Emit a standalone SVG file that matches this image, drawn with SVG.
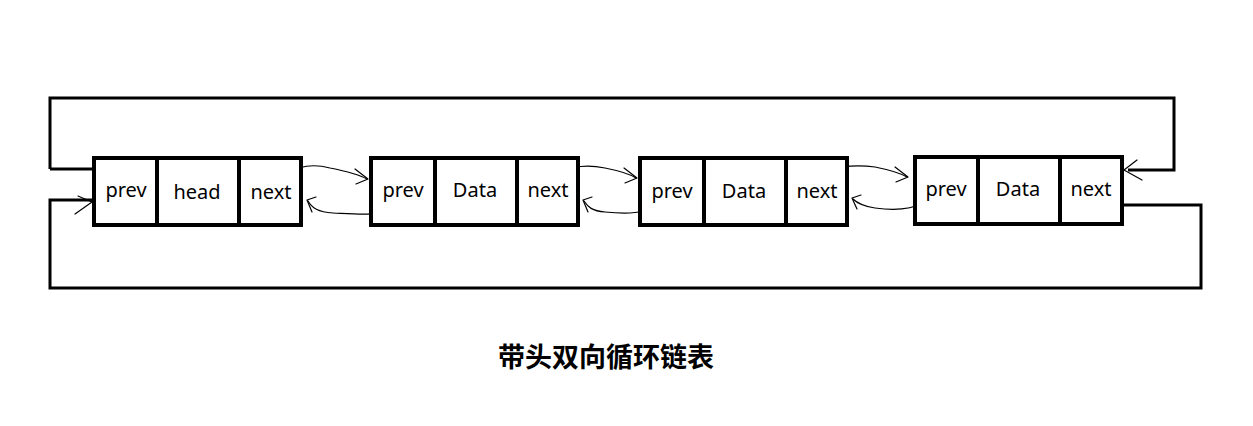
<svg xmlns="http://www.w3.org/2000/svg" width="1253" height="426" viewBox="0 0 1253 426">
<style>
.box{fill:#fff;stroke:#000;stroke-width:4}
.div{stroke:#000;stroke-width:4}
.t{font-family:"Noto Sans","Liberation Sans",sans-serif;font-size:20px;fill:#000;text-anchor:middle}
.loop{fill:none;stroke:#000;stroke-width:3}
.thin{fill:none;stroke:#000;stroke-width:1.2;stroke-linecap:round;stroke-linejoin:round}
.title{font-family:"Noto Sans CJK SC","Noto Sans",sans-serif;font-size:27px;font-weight:bold;fill:#000;text-anchor:middle}
</style>
<rect width="1253" height="426" fill="#fff"/>
<g id="connectors">
<path class="loop" d="M50,169 V98 H1174 V170 H1128"/>
<path class="loop" d="M50,169 H110"/>
<path class="loop" d="M1107,205 H1201 V288 H50 V200 H102"/>
<path class="thin" d="M78,196 L92,202 L75,214"/>
<path class="thin" d="M1137,160 L1124,170 L1142,180"/>
<path class="thin" d="M289,175 C296,165 315,164 330,168 C345,171 358,174 367,179"/>
<path class="thin" d="M355,169 L368,179 L356,184"/>
<path class="thin" d="M383,210 C378,216 355,214 333,213 C318,212 312,208 308,201"/>
<path class="thin" d="M316,197 L307,200 L312,212"/>
<path class="thin" d="M562,174 C570,165 590,165 605,168 C620,171 630,174 636,178"/>
<path class="thin" d="M624,168 L637,178 L625,183"/>
<path class="thin" d="M652,205 C647,214 625,214 605,212 C592,211 588,207 584,201"/>
<path class="thin" d="M592,197 L583,200 L588,212"/>
<path class="thin" d="M830,169 C840,166 860,165 875,167 C890,170 900,173 907,177"/>
<path class="thin" d="M895,167 L908,177 L896,182"/>
<path class="thin" d="M923,203 C910,210 890,210 875,208 C862,206 857,203 853,199"/>
<path class="thin" d="M861,195 L852,198 L857,209"/>
</g>
<g id="node-head">
<rect class="box" x="94" y="158" width="207" height="67"/>
<line class="div" x1="157" y1="158" x2="157" y2="225"/>
<line class="div" x1="239" y1="158" x2="239" y2="225"/>
<text class="t" x="126" y="197">prev</text>
<text class="t" x="197" y="199">head</text>
<text class="t" x="271" y="199">next</text>
</g>
<g id="node-1">
<rect class="box" x="371" y="158" width="207" height="67"/>
<line class="div" x1="435" y1="158" x2="435" y2="225"/>
<line class="div" x1="517" y1="158" x2="517" y2="225"/>
<text class="t" x="403" y="197">prev</text>
<text class="t" x="475" y="197">Data</text>
<text class="t" x="548" y="197">next</text>
</g>
<g id="node-2">
<rect class="box" x="640" y="158" width="207" height="67"/>
<line class="div" x1="704" y1="158" x2="704" y2="225"/>
<line class="div" x1="786" y1="158" x2="786" y2="225"/>
<text class="t" x="672" y="198">prev</text>
<text class="t" x="744" y="198">Data</text>
<text class="t" x="817" y="198">next</text>
</g>
<g id="node-3">
<rect class="box" x="915" y="157" width="207" height="67"/>
<line class="div" x1="978" y1="157" x2="978" y2="224"/>
<line class="div" x1="1060" y1="157" x2="1060" y2="224"/>
<text class="t" x="946" y="196">prev</text>
<text class="t" x="1018" y="196">Data</text>
<text class="t" x="1091" y="196">next</text>
</g>
<g id="title">
<text class="title" x="606" y="367">带头双向循环链表</text>
</g>
</svg>
